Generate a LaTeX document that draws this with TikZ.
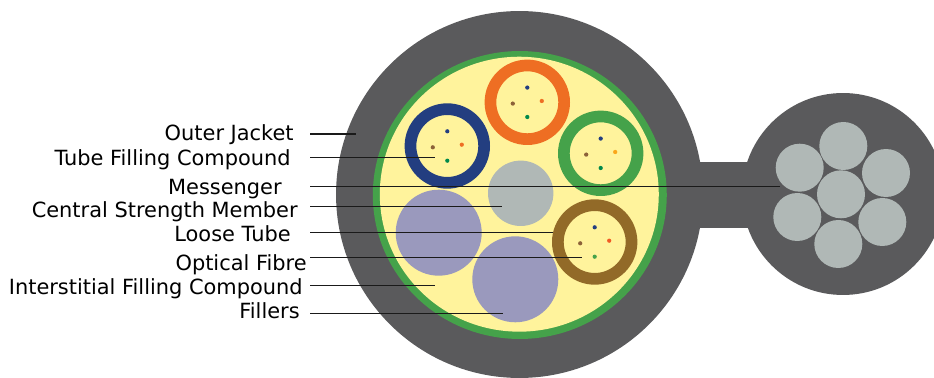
\documentclass[tikz,border=0pt]{standalone}
\usepackage{fontspec}
\setmainfont{DejaVu Sans}
\usepackage{xcolor}
\usetikzlibrary{shapes.geometric,positioning}
\definecolor{CableJacket}{HTML}{5A5A5C}
\definecolor{CableGreen}{HTML}{45A24A}
\definecolor{CableYellow}{HTML}{FFF39C}
\definecolor{CableOrange}{HTML}{EE6E23}
\definecolor{CableBlue}{HTML}{233E80}
\definecolor{CableBrown}{HTML}{926A28}
\definecolor{CableGrey}{HTML}{B0B8B6}
\definecolor{CableFiller}{HTML}{9A99BD}
\definecolor{FibreBrown}{HTML}{8C6239}
\definecolor{FibreGreen}{HTML}{00894B}
\definecolor{FibreAmber}{HTML}{FAA61A}
\definecolor{FibreRed}{HTML}{F15A24}
\definecolor{LeaderBlack}{HTML}{1A1A1A}
\tikzset{
    % Solid discs
    disc/.style={
        circle,
        inner sep=0pt,
        fill=CableGrey
    },
    strand/.style={
        disc,
        minimum size=0.96cm
    },
    filler/.style={
        disc,
        fill=CableFiller,
        minimum size=1.72cm
    },
    % Rings with a filled core
    tube/.style={
        circle,
        inner sep=0pt,
        line width=0.234cm,
        fill=CableYellow,
        minimum size=1.474cm
    },
    fibre/.style={
        disc,
        minimum size=0.085cm
    },
    caption/.style={
        anchor=base east,
        inner sep=0pt,
        text=black,
        font=\fontsize{11.9}{14}\selectfont
    },
    leader/.style={
        draw=LeaderBlack,
        line width=0.75pt
    }
}
\begin{document}
\begin{tikzpicture}[x=0.02cm, y=-0.02cm]
        \useasboundingbox (0,0) rectangle (934,378);

        % Messenger side
        \node[disc, fill=CableJacket, minimum size=4.04cm] (messenger) at (843,194) {};
        \node[rectangle, inner sep=0pt, fill=CableJacket, minimum width=1.4cm, minimum height=1.32cm] (neck) at (725,195) {};
        \node[strand] (strandmid) at (841,194.3) {};
        \node[strand] (strandtop) at (843.3,146) {};
        \node[strand] (strandtr) at (886,173) {};
        \node[strand] (strandbr) at (882.3,222) {};
        \node[strand] (strandbot) at (838.3,244) {};
        \node[strand] (strandbl) at (797.3,217) {};
        \node[strand] (strandtl) at (799.7,167.7) {};

        % Main cable
        \node[disc, fill=CableJacket, minimum size=7.34cm] (jacket) at (519.5,194.5) {};
        \node[ellipse, inner sep=0pt, fill=CableGreen, minimum width=5.88cm, minimum height=5.76cm] (armour) at (519.8,195) {};
        \node[ellipse, inner sep=0pt, fill=CableYellow, minimum width=5.58cm, minimum height=5.5cm] (core) at (519.3,194.2) {};
        \node[disc, minimum size=1.308cm] (central) at (520.7,193.3) {};
        \node[filler] (fillerleft) at (438.7,232.7) {};
        \node[filler] (fillerlow) at (515.3,279.3) {};

        % Loose tubes
        \node[tube, draw=CableOrange] (tubeorange) at (527.3,102.3) {};
        \node[tube, draw=CableBlue] (tubeblue) at (447.3,146) {};
        \node[tube, draw=CableGreen] (tubegreen) at (600.7,153.3) {};
        \node[tube, draw=CableBrown] (tubebrown) at (594.7,242) {};

        % Fibres
        \node[fibre, fill=CableBlue, above=0.294cm of tubeorange.center, anchor=center] (orangea) {};
        \node[fibre, fill=CableOrange, above right=0.026cm and 0.29cm of tubeorange.center, anchor=center] (orangeb) {};
        \node[fibre, fill=FibreBrown, below left=0.026cm and 0.29cm of tubeorange.center, anchor=center] (orangec) {};
        \node[fibre, fill=FibreGreen, below=0.294cm of tubeorange.center, anchor=center] (oranged) {};

        \node[fibre, fill=CableBlue, above=0.294cm of tubeblue.center, anchor=center] (bluea) {};
        \node[fibre, fill=CableOrange, above right=0.026cm and 0.29cm of tubeblue.center, anchor=center] (blueb) {};
        \node[fibre, fill=FibreBrown, below left=0.026cm and 0.29cm of tubeblue.center, anchor=center] (bluec) {};
        \node[fibre, fill=FibreGreen, below=0.294cm of tubeblue.center, anchor=center] (blued) {};

        \node[fibre, fill=CableBlue, above=0.294cm of tubegreen.center, anchor=center] (greena) {};
        \node[fibre, fill=FibreAmber, above right=0.026cm and 0.29cm of tubegreen.center, anchor=center] (greenb) {};
        \node[fibre, fill=FibreBrown, below left=0.026cm and 0.29cm of tubegreen.center, anchor=center] (greenc) {};
        \node[fibre, fill=FibreGreen, below=0.294cm of tubegreen.center, anchor=center] (greend) {};

        \node[fibre, fill=CableBlue, above=0.294cm of tubebrown.center, anchor=center] (browna) {};
        \node[fibre, fill=FibreRed, above right=0.026cm and 0.29cm of tubebrown.center, anchor=center] (brownb) {};
        \node[fibre, fill=FibreBrown, below left=0.026cm and 0.29cm of tubebrown.center, anchor=center] (brownc) {};
        \node[fibre, fill=CableGreen, below=0.294cm of tubebrown.center, anchor=center] (brownd) {};

        % Captions
        \node[caption] (labjacket) at (294,140.7) {Outer Jacket};
        \node[caption] (labcompound) at (291,166) {Tube Filling Compound};
        \node[caption] (labmessenger) at (282,194.7) {Messenger};
        \node[caption] (labcentral) at (298,217.7) {Central Strength Member};
        \node[caption] (labtube) at (291,242) {Loose Tube};
        \node[caption] (labfibre) at (307,271) {Optical Fibre};
        \node[caption] (labgel) at (303,295) {Interstitial Filling Compound};
        \node[caption] (labfillers) at (300,319) {Fillers};

        % Leaders
        \coordinate (startjacket) at (310,134);
        \coordinate (endjacket) at (356,134);
        \coordinate (startcompound) at (310,157.3);
        \coordinate (endcompound) at (435,157.3);
        \coordinate (startmessenger) at (310,186.7);
        \coordinate (endmessenger) at (780,186.7);
        \coordinate (startcentral) at (310,206.5);
        \coordinate (endcentral) at (501.7,206.5);
        \coordinate (starttube) at (310,232.5);
        \coordinate (endtube) at (553,232.5);
        \coordinate (startfibre) at (310,257.5);
        \coordinate (endfibre) at (581.7,257.5);
        \coordinate (startgel) at (310,285.7);
        \coordinate (endgel) at (435,285.7);
        \coordinate (startfillers) at (310,313.5);
        \coordinate (endfillers) at (503.3,313.5);
        \draw[leader] (startjacket) -- (endjacket);
        \draw[leader] (startcompound) -- (endcompound);
        \draw[leader] (startmessenger) -- (endmessenger);
        \draw[leader] (startcentral) -- (endcentral);
        \draw[leader] (starttube) -- (endtube);
        \draw[leader] (startfibre) -- (endfibre);
        \draw[leader] (startgel) -- (endgel);
        \draw[leader] (startfillers) -- (endfillers);
    \end{tikzpicture}
\end{document}
